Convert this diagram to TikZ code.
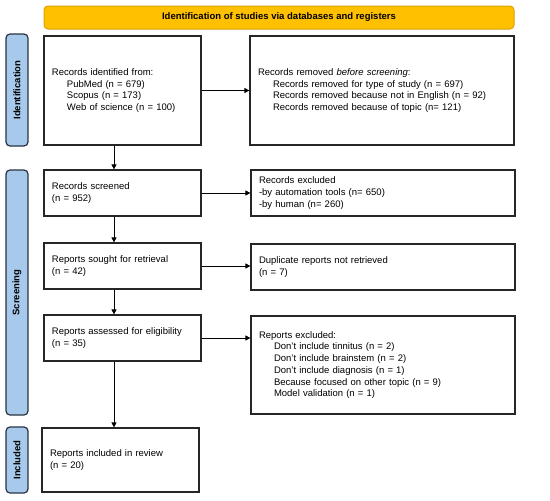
\documentclass[tikz,border=0pt]{standalone}
\usepackage{fontspec}
\setmainfont{Liberation Sans}
\usetikzlibrary{arrows.meta}
\definecolor{bannerfill}{HTML}{FFC000}
\definecolor{bannerline}{HTML}{D9A300}
\definecolor{sidefill}{HTML}{A7C9EC}
\definecolor{sideline}{HTML}{2A3340}
\definecolor{boxline}{HTML}{262626}
\tikzset{
  box/.style={draw=boxline, line width=1.2pt, fill=white, inner xsep=8pt, inner ysep=2pt,
    align=left, font=\fontsize{9.5}{11.7}\selectfont, anchor=center},
  banner/.style={draw=bannerline, line width=1pt, fill=bannerfill, rounded corners=4pt,
    minimum width=470pt, minimum height=23pt, inner sep=0pt,
    font=\fontsize{9.5}{11.7}\selectfont\bfseries},
  side/.style={draw=sideline, line width=1.2pt, fill=sidefill, rounded corners=4pt,
    rotate=90, minimum height=22pt, inner sep=0pt,
    font=\fontsize{9.5}{11.7}\selectfont\bfseries},
  arr/.style={draw=black, line width=0.8pt, -{Triangle[length=5pt,width=5pt]}},
}
\newcommand{\ind}{\hspace*{15pt}}
\begin{document}
\begin{tikzpicture}[x=1pt,y=-1pt]
\useasboundingbox (0,0) rectangle (550,501);

\node[banner] (ban) at (279,17.5) {Identification of studies via databases and registers};

\node[side, minimum width=112pt] (sid) at (17,90) {Identification};
\node[side, minimum width=245pt] (ssc) at (17,292.5) {Screening};
\node[side, minimum width=66pt] (sin) at (17,460) {Included};

\node[box, text width=141pt, minimum height=109pt] (b1) at (122.5,90.5)
  {Records identified from:\\\ind PubMed (n = 679)\\\ind Scopus (n = 173)\\\ind Web of science (n = 100)};
\node[box, text width=248pt, minimum height=109pt] (b2) at (382,90.5)
  {Records removed \textit{before screening}:\\\ind Records removed for type of study (n = 697)\\\ind Records removed because not in English (n = 92)\\\ind Records removed because of topic (n= 121)};

\node[box, text width=141pt, minimum height=46pt] (b3) at (122.5,193)
  {Records screened\\(n = 952)};
\node[box, text width=248pt, minimum height=46pt] (b4) at (383,193)
  {Records excluded\\-by automation tools (n= 650)\\-by human (n= 260)};

\node[box, text width=141pt, minimum height=46pt] (b5) at (122.5,266)
  {Reports sought for retrieval\\(n = 42)};
\node[box, text width=248pt, minimum height=46pt] (b6) at (383,267)
  {Duplicate reports not retrieved\\(n = 7)};

\node[box, text width=141pt, minimum height=46pt] (b7) at (122.5,338)
  {Reports assessed for eligibility\\(n = 35)};
\node[box, text width=248pt, minimum height=98pt] (b8) at (383,365)
  {Reports excluded:\\\ind Don't include tinnitus (n = 2)\\\ind Don't include brainstem (n = 2)\\\ind Don't include diagnosis (n = 1)\\\ind Because focused on other topic (n = 9)\\\ind Model validation (n = 1)};

\node[box, text width=141pt, minimum height=64pt] (b9) at (120.5,460)
  {Reports included in review\\(n = 20)};

\coordinate (ax) at (114,0);
\draw[arr] (b1.south -| ax) -- (b3.north -| ax);
\draw[arr] (b3.south -| ax) -- (b5.north -| ax);
\draw[arr] (b5.south -| ax) -- (b7.north -| ax);
\draw[arr] (b7.south -| ax) -- (b9.north -| ax);

\draw[arr] (b1.east) -- (b2.west |- b1.east);
\draw[arr] (b3.east) -- (b4.west |- b3.east);
\draw[arr] (b5.east) -- (b6.west |- b5.east);
\draw[arr] (b7.east) -- (b8.west |- b7.east);
\end{tikzpicture}
\end{document}
